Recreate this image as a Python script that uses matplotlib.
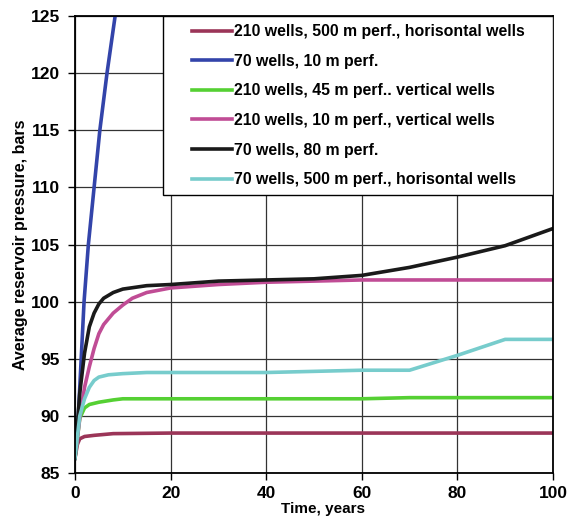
import numpy as np
import matplotlib.pyplot as plt
from matplotlib.patches import Rectangle

plt.rcParams['font.family'] = ['Liberation Sans', 'DejaVu Sans']
plt.rcParams['font.weight'] = 'bold'

# series
t_maroon = [0, 0.5, 1, 2, 4, 8, 20, 60, 100]
p_maroon = [86.3, 87.5, 88.0, 88.2, 88.3, 88.45, 88.5, 88.5, 88.5]

t_blue = [0, 0.7, 1.3, 1.9, 2.8, 4.0, 5.2, 6.7, 8.4, 9.0]
p_blue = [86.3, 90, 95, 100, 105, 110, 115, 120, 125, 127]

t_green = [0, 1, 2, 3, 5, 8, 10, 20, 60, 70, 100]
p_green = [86.3, 89.8, 90.7, 91.0, 91.2, 91.4, 91.5, 91.5, 91.5, 91.6, 91.6]

t_pink = [0, 1, 2, 3, 4, 5, 6, 8, 10, 12, 15, 20, 30, 40, 60, 80, 100]
p_pink = [86.3, 89.8, 92.5, 94.3, 95.9, 97.2, 98.0, 99.0, 99.7, 100.3, 100.8,
          101.2, 101.5, 101.7, 101.9, 101.9, 101.9]

t_black = [0, 1, 2, 3, 4, 5, 6, 8, 10, 15, 20, 30, 40, 50, 60, 70, 80, 90, 100]
p_black = [86.3, 92.0, 95.5, 97.8, 99.0, 99.8, 100.3, 100.8, 101.1, 101.4,
           101.5, 101.8, 101.9, 102.0, 102.3, 103.0, 103.9, 104.9, 106.4]

t_cyan = [0, 1, 2, 3, 4, 5, 7, 10, 15, 40, 60, 70, 80, 90, 100]
p_cyan = [86.3, 90.0, 91.5, 92.5, 93.1, 93.4, 93.6, 93.7, 93.8, 93.8, 94.0,
          94.0, 95.3, 96.7, 96.7]

labels = ["210 wells, 500 m perf., horisontal wells",
          "70 wells, 10 m perf.",
          "210 wells, 45 m perf.. vertical wells",
          "210 wells, 10 m perf., vertical wells",
          "70 wells, 80 m perf.",
          "70 wells, 500 m perf., horisontal wells"]
colors = ['#9B3558', '#3344AA', '#55D033', '#C04C95', '#1a1a1a', '#77CCCC']

fig = plt.figure(figsize=(5.79, 5.17), dpi=100)
ax = fig.add_axes([0.1295, 0.085, 0.8255, 0.884])

series = [(t_maroon, p_maroon), (t_blue, p_blue), (t_green, p_green),
          (t_pink, p_pink), (t_black, p_black), (t_cyan, p_cyan)]
for (t, p), c, lab in zip(series, colors, labels):
    ax.plot(t, p, color=c, lw=2.6, label=lab)

ax.set_xlim(0, 100)
ax.set_ylim(85, 125)
ax.set_xticks([0, 20, 40, 60, 80, 100])
ax.set_yticks(np.arange(85, 126, 5))
ax.grid(True, color='#333333', lw=0.9)
ax.set_axisbelow(True)
for s in ax.spines.values():
    s.set_color('black')
    s.set_linewidth(1.3)
ax.tick_params(direction='out', length=5, width=1, labelsize=12.5, pad=6)
ax.tick_params(axis='x', pad=4)

ax.set_xlabel('Time, years', fontsize=11, fontweight='bold', va='bottom')
ax.xaxis.set_label_coords(0.519, -0.093)
ax.set_ylabel('Average reservoir pressure, bars', fontsize=11.5,
              fontweight='bold', labelpad=2)

# legend box filling the upper-right corner of the plot
box = Rectangle((0.184, 0.608), 0.816, 0.392, transform=ax.transAxes,
                facecolor='white', edgecolor='black', lw=1.0, zorder=4)
ax.add_patch(box)
leg = ax.legend(loc='upper left', bbox_to_anchor=(0.245, 0.982),
                borderaxespad=0, borderpad=0, frameon=False,
                prop={'size': 11.4, 'weight': 'bold'}, handlelength=2.5,
                handletextpad=0.13, labelspacing=0.92)
leg.set_zorder(5)

fig.savefig('out.png', dpi=100)
